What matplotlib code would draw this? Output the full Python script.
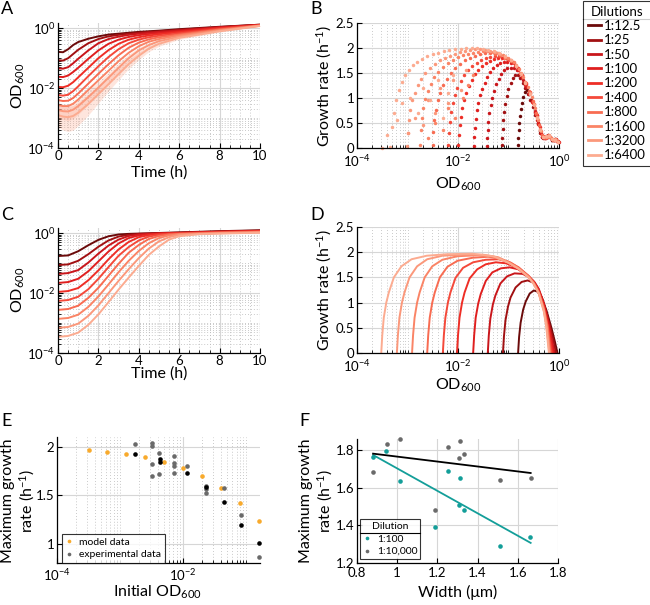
import numpy as np
import matplotlib
matplotlib.use('Agg')
import matplotlib.pyplot as plt
from matplotlib.ticker import LogLocator, NullFormatter, MultipleLocator
from matplotlib.lines import Line2D

plt.rcParams['font.family'] = ['Lato', 'DejaVu Sans']
plt.rcParams['mathtext.fontset'] = 'custom'
plt.rcParams['mathtext.rm'] = 'Lato'
plt.rcParams['mathtext.it'] = 'Lato:italic'
plt.rcParams['mathtext.bf'] = 'Lato:bold'
plt.rcParams['axes.unicode_minus'] = False

# ---- data ----
dilutions = ['1:12.5', '1:25', '1:50', '1:100', '1:200', '1:400', '1:800',
             '1:1600', '1:3200', '1:6400']
colors = ['#6b0a0a', '#a11012', '#c9161b', '#df1f1f', '#ee2e26', '#f4493a',
          '#f86c52', '#fa8466', '#fb987b', '#fcab90']

# A: measured OD (log10) vs time
t_a = [0, 0.25, 0.5, 0.75, 1, 1.5, 2, 2.5, 3, 3.5, 4, 4.5, 5, 6, 8, 10]
od_a = [
    [-0.79, -0.8, -0.7, -0.56, -0.46, -0.35, -0.27, -0.21, -0.18, -0.15, -0.12, -0.1, -0.08, -0.03, 0.05, 0.12],
    [-1.07, -1.08, -1.0, -0.86, -0.72, -0.5, -0.36, -0.27, -0.22, -0.18, -0.15, -0.12, -0.1, -0.05, 0.04, 0.12],
    [-1.34, -1.35, -1.3, -1.17, -1.02, -0.74, -0.5, -0.36, -0.28, -0.22, -0.18, -0.15, -0.12, -0.07, 0.03, 0.11],
    [-1.62, -1.63, -1.58, -1.46, -1.32, -1.02, -0.74, -0.52, -0.38, -0.29, -0.23, -0.19, -0.16, -0.1, 0.02, 0.11],
    [-1.96, -1.97, -1.92, -1.8, -1.64, -1.32, -1.0, -0.73, -0.52, -0.38, -0.3, -0.24, -0.2, -0.13, 0.0, 0.1],
    [-2.23, -2.25, -2.22, -2.1, -1.94, -1.6, -1.27, -0.96, -0.7, -0.5, -0.38, -0.3, -0.25, -0.17, -0.02, 0.1],
    [-2.4, -2.43, -2.42, -2.33, -2.18, -1.85, -1.52, -1.2, -0.9, -0.65, -0.48, -0.37, -0.3, -0.21, -0.04, 0.09],
    [-2.57, -2.6, -2.6, -2.52, -2.38, -2.06, -1.74, -1.42, -1.1, -0.82, -0.6, -0.45, -0.36, -0.24, -0.06, 0.09],
    [-2.73, -2.77, -2.78, -2.72, -2.6, -2.3, -1.98, -1.65, -1.32, -1.0, -0.74, -0.56, -0.43, -0.28, -0.08, 0.08],
    [-2.9, -2.95, -2.97, -2.93, -2.82, -2.53, -2.2, -1.87, -1.53, -1.2, -0.92, -0.68, -0.52, -0.32, -0.1, 0.08],
]
band9_lo = [-3.0, -3.05, -3.08, -3.02, -2.88, -2.55, -2.2, -1.85, -1.5, -1.15, -0.86, -0.64, -0.48, -0.31, -0.1, 0.07]
band9_hi = [-2.5, -2.53, -2.53, -2.47, -2.36, -2.08, -1.78, -1.47, -1.16, -0.87, -0.64, -0.49, -0.39, -0.26, -0.07, 0.09]
band10_lo = [-3.3, -3.4, -3.45, -3.4, -3.25, -2.9, -2.5, -2.1, -1.72, -1.35, -1.05, -0.78, -0.6, -0.37, -0.13, 0.06]
band10_hi = [-2.6, -2.62, -2.62, -2.58, -2.48, -2.22, -1.93, -1.63, -1.33, -1.04, -0.8, -0.6, -0.46, -0.28, -0.08, 0.09]

# B: measured growth rate vs OD (log10 OD, rate)
b_x = [
    [-0.82, -0.81, -0.8, -0.79, -0.78, -0.76, -0.74, -0.71, -0.68, -0.64, -0.6, -0.55, -0.5, -0.46, -0.42, -0.38, -0.33, -0.28, -0.23, -0.18, -0.13, -0.08, -0.03],
    [-1.13, -1.12, -1.11, -1.1, -1.08, -1.06, -1.03, -1.0, -0.96, -0.92, -0.87, -0.82, -0.77, -0.72, -0.67, -0.62, -0.57, -0.52, -0.47, -0.42, -0.37, -0.31, -0.25, -0.19, -0.13, -0.07, -0.01],
    [-1.43, -1.42, -1.41, -1.4, -1.38, -1.35, -1.32, -1.28, -1.24, -1.19, -1.14, -1.08, -1.02, -0.96, -0.9, -0.84, -0.78, -0.72, -0.66, -0.6, -0.54, -0.48, -0.43, -0.38, -0.33, -0.27, -0.21, -0.15, -0.09, -0.03],
    [-1.69, -1.68, -1.67, -1.65, -1.63, -1.6, -1.56, -1.52, -1.47, -1.42, -1.36, -1.3, -1.23, -1.16, -1.09, -1.02, -0.95, -0.88, -0.81, -0.74, -0.67, -0.6, -0.53, -0.47, -0.41, -0.35, -0.29, -0.23, -0.17, -0.11, -0.05, 0.0],
    [-2.0, -1.99, -1.97, -1.95, -1.92, -1.88, -1.84, -1.79, -1.73, -1.67, -1.6, -1.53, -1.45, -1.37, -1.29, -1.21, -1.13, -1.05, -0.97, -0.89, -0.81, -0.73, -0.65, -0.57, -0.5, -0.44, -0.38, -0.32, -0.26, -0.2, -0.14, -0.08, -0.02],
    [-2.19, -2.18, -2.16, -2.13, -2.1, -2.06, -2.01, -1.95, -1.88, -1.8, -1.72, -1.63, -1.54, -1.45, -1.36, -1.27, -1.18, -1.09, -1.0, -0.91, -0.82, -0.74, -0.66, -0.58, -0.51, -0.45, -0.39, -0.33, -0.27, -0.21, -0.15, -0.09, -0.03],
    [-2.5, -2.49, -2.47, -2.44, -2.4, -2.35, -2.29, -2.22, -2.14, -2.05, -1.96, -1.86, -1.76, -1.66, -1.56, -1.46, -1.36, -1.26, -1.16, -1.06, -0.96, -0.86, -0.77, -0.68, -0.6, -0.52, -0.45, -0.39, -0.33, -0.27, -0.21, -0.15, -0.09, -0.03],
    [-2.75, -2.74, -2.72, -2.69, -2.65, -2.6, -2.54, -2.47, -2.39, -2.3, -2.2, -2.1, -2.0, -1.9, -1.8, -1.7, -1.6, -1.5, -1.4, -1.3, -1.2, -1.1, -1.0, -0.9, -0.8, -0.71, -0.62, -0.54, -0.47, -0.41, -0.35, -0.29, -0.23, -0.17, -0.11, -0.05],
    [-3.01, -3.0, -2.98, -2.95, -2.91, -2.86, -2.8, -2.73, -2.65, -2.56, -2.46, -2.36, -2.26, -2.16, -2.06, -1.96, -1.86, -1.76, -1.66, -1.56, -1.46, -1.36, -1.26, -1.16, -1.06, -0.96, -0.86, -0.76, -0.67, -0.58, -0.5, -0.43, -0.37, -0.31, -0.25, -0.19, -0.13, -0.07, -0.01],
    [-3.34, -3.3, -3.26, -3.22, -3.17, -3.11, -3.05, -2.98, -2.9, -2.81, -2.71, -2.61, -2.5, -2.39, -2.28, -2.17, -2.06, -1.95, -1.84, -1.73, -1.62, -1.51, -1.4, -1.29, -1.18, -1.07, -0.96, -0.86, -0.76, -0.67, -0.58, -0.5, -0.43, -0.37, -0.31, -0.25, -0.19, -0.13, -0.07, -0.01],
]
b_y = [
    [0.05, 0.2, 0.35, 0.5, 0.64, 0.78, 0.9, 1.02, 1.12, 1.15, 1.08, 0.95, 0.82, 0.68, 0.5, 0.33, 0.22, 0.2, 0.24, 0.22, 0.16, 0.18, 0.14],
    [0.05, 0.2, 0.38, 0.55, 0.72, 0.88, 1.03, 1.17, 1.3, 1.4, 1.46, 1.45, 1.4, 1.3, 1.2, 1.08, 0.96, 0.82, 0.66, 0.48, 0.3, 0.2, 0.23, 0.24, 0.15, 0.17, 0.12],
    [0.04, 0.2, 0.36, 0.52, 0.7, 0.86, 1.0, 1.14, 1.27, 1.38, 1.48, 1.55, 1.6, 1.6, 1.6, 1.56, 1.48, 1.36, 1.22, 1.08, 0.93, 0.74, 0.55, 0.35, 0.22, 0.21, 0.25, 0.2, 0.16, 0.13],
    [0.04, 0.22, 0.4, 0.58, 0.75, 0.9, 1.05, 1.18, 1.3, 1.42, 1.52, 1.6, 1.66, 1.7, 1.72, 1.72, 1.7, 1.64, 1.56, 1.42, 1.26, 1.1, 0.92, 0.72, 0.5, 0.3, 0.2, 0.22, 0.22, 0.15, 0.17, 0.11],
    [0.05, 0.25, 0.45, 0.62, 0.8, 0.96, 1.1, 1.24, 1.36, 1.47, 1.56, 1.63, 1.69, 1.74, 1.77, 1.79, 1.8, 1.79, 1.76, 1.7, 1.6, 1.45, 1.28, 1.1, 0.88, 0.66, 0.42, 0.24, 0.2, 0.24, 0.18, 0.16, 0.13],
    [0.05, 0.3, 0.52, 0.72, 0.9, 1.05, 1.2, 1.33, 1.45, 1.55, 1.63, 1.7, 1.75, 1.79, 1.82, 1.84, 1.84, 1.82, 1.78, 1.71, 1.6, 1.46, 1.3, 1.12, 0.9, 0.68, 0.45, 0.26, 0.2, 0.23, 0.19, 0.16, 0.14],
    [0.05, 0.32, 0.55, 0.76, 0.95, 1.1, 1.25, 1.38, 1.5, 1.6, 1.68, 1.75, 1.8, 1.84, 1.87, 1.89, 1.89, 1.88, 1.85, 1.8, 1.73, 1.63, 1.49, 1.32, 1.14, 0.94, 0.7, 0.46, 0.26, 0.21, 0.24, 0.19, 0.16, 0.13],
    [0.05, 0.35, 0.6, 0.8, 0.98, 1.14, 1.28, 1.41, 1.52, 1.62, 1.7, 1.76, 1.81, 1.85, 1.88, 1.9, 1.92, 1.93, 1.93, 1.92, 1.9, 1.86, 1.8, 1.71, 1.58, 1.42, 1.22, 1.02, 0.8, 0.56, 0.34, 0.22, 0.22, 0.21, 0.16, 0.15],
    [0.04, 0.3, 0.55, 0.76, 0.95, 1.1, 1.25, 1.38, 1.5, 1.6, 1.68, 1.75, 1.8, 1.84, 1.88, 1.91, 1.94, 1.96, 1.97, 1.97, 1.96, 1.94, 1.91, 1.87, 1.82, 1.75, 1.65, 1.5, 1.32, 1.1, 0.88, 0.62, 0.38, 0.22, 0.22, 0.25, 0.17, 0.17, 0.12],
    [0.02, 0.42, 0.7, 0.95, 1.15, 1.32, 1.45, 1.56, 1.65, 1.72, 1.78, 1.83, 1.87, 1.9, 1.93, 1.95, 1.97, 1.98, 1.99, 2.0, 1.99, 1.98, 1.96, 1.93, 1.89, 1.84, 1.76, 1.64, 1.48, 1.3, 1.08, 0.85, 0.6, 0.36, 0.21, 0.23, 0.24, 0.18, 0.16, 0.12],
]
# scattered early points of the most diluted cultures
noise_x = {9: [-3.5, -3.4, -3.2, -3.1, -2.95, -2.8, -2.7, -2.55, -2.4, -2.3, -2.2, -2.1],
           8: [-3.0, -2.85, -2.7, -2.6, -2.45, -2.35, -2.2, -2.1, -1.95, -1.85],
           7: [-2.6, -2.45, -2.3, -2.2, -2.05, -1.9, -1.8, -1.7]}
noise_y = {9: [0.0, 0.25, 0.55, 0.9, 1.0, 0.7, 1.2, 0.95, 1.35, 0.6, 1.1, 1.45],
           8: [0.3, 0.6, 0.45, 0.95, 0.7, 1.2, 0.9, 1.35, 1.15, 1.55],
           7: [0.2, 0.5, 0.35, 0.8, 0.6, 1.0, 1.25, 1.45]}

# C: model OD (log10) vs time
t_c = [0, 0.5, 1, 1.5, 2, 2.5, 3, 3.5, 4, 4.5, 5, 5.5, 6, 7, 8, 10]
od_c = [
    [-0.76, -0.74, -0.6, -0.4, -0.22, -0.1, -0.04, -0.02, -0.01, 0.0, 0.01, 0.02, 0.03, 0.05, 0.07, 0.1],
    [-1.06, -1.04, -0.92, -0.70, -0.45, -0.24, -0.11, -0.05, -0.02, -0.01, 0.0, 0.01, 0.02, 0.04, 0.06, 0.09],
    [-1.36, -1.33, -1.23, -0.98, -0.68, -0.41, -0.21, -0.09, -0.04, -0.02, -0.01, 0.0, 0.01, 0.03, 0.05, 0.08],
    [-1.66, -1.63, -1.52, -1.27, -0.94, -0.61, -0.34, -0.16, -0.07, -0.03, -0.01, 0.0, 0.01, 0.03, 0.05, 0.07],
    [-1.96, -1.93, -1.83, -1.57, -1.24, -0.87, -0.54, -0.29, -0.13, -0.06, -0.02, -0.01, 0.0, 0.02, 0.04, 0.07],
    [-2.26, -2.23, -2.12, -1.87, -1.52, -1.13, -0.75, -0.46, -0.24, -0.11, -0.05, -0.02, -0.01, 0.01, 0.03, 0.06],
    [-2.56, -2.53, -2.42, -2.16, -1.82, -1.42, -1.02, -0.65, -0.39, -0.19, -0.09, -0.04, -0.02, 0.0, 0.02, 0.05],
    [-2.86, -2.83, -2.72, -2.46, -2.11, -1.71, -1.3, -0.92, -0.59, -0.33, -0.16, -0.07, -0.03, -0.01, 0.01, 0.04],
    [-3.16, -3.13, -3.02, -2.76, -2.41, -2.0, -1.59, -1.2, -0.83, -0.51, -0.27, -0.13, -0.05, -0.02, 0.0, 0.03],
    [-3.46, -3.43, -3.32, -3.06, -2.71, -2.3, -1.88, -1.48, -1.09, -0.72, -0.44, -0.21, -0.1, -0.03, -0.01, 0.02],
]

# D: model growth rate vs OD (log10 OD, rate)
d_x = [
    [-0.81, -0.79, -0.76, -0.71, -0.66, -0.58, -0.5, -0.43, -0.35, -0.25, -0.15, -0.08, -0.03],
    [-1.11, -1.09, -1.06, -1.01, -0.96, -0.86, -0.74, -0.62, -0.52, -0.42, -0.33, -0.22, -0.12, -0.06],
    [-1.41, -1.39, -1.36, -1.31, -1.26, -1.16, -1.03, -0.88, -0.72, -0.58, -0.48, -0.4, -0.3, -0.2, -0.09],
    [-1.70, -1.68, -1.65, -1.6, -1.55, -1.45, -1.32, -1.15, -0.98, -0.8, -0.62, -0.5, -0.4, -0.3, -0.2, -0.11],
    [-2.02, -2.0, -1.97, -1.92, -1.87, -1.77, -1.62, -1.45, -1.25, -1.05, -0.85, -0.65, -0.5, -0.4, -0.3, -0.21, -0.13],
    [-2.30, -2.28, -2.25, -2.20, -2.15, -2.05, -1.9, -1.7, -1.45, -1.2, -1.0, -0.8, -0.6, -0.5, -0.4, -0.3, -0.22, -0.15],
    [-2.61, -2.59, -2.56, -2.51, -2.46, -2.36, -2.21, -2.01, -1.71, -1.4, -1.15, -0.95, -0.8, -0.6, -0.5, -0.4, -0.3, -0.23, -0.17],
    [-2.91, -2.89, -2.86, -2.81, -2.76, -2.66, -2.51, -2.31, -2.01, -1.6, -1.3, -1.0, -0.8, -0.6, -0.5, -0.4, -0.3, -0.24, -0.18],
    [-3.21, -3.19, -3.16, -3.11, -3.06, -2.96, -2.81, -2.61, -2.31, -1.91, -1.5, -1.2, -1.0, -0.8, -0.6, -0.5, -0.4, -0.3, -0.25, -0.19],
    [-3.52, -3.50, -3.47, -3.42, -3.37, -3.27, -3.12, -2.92, -2.62, -2.22, -1.72, -1.3, -1.0, -0.8, -0.6, -0.5, -0.4, -0.3, -0.25, -0.2],
]
d_y = [
    [0, 0.32, 0.6, 0.86, 1.02, 1.18, 1.24, 1.22, 1.12, 0.85, 0.5, 0.22, 0.0],
    [0, 0.33, 0.65, 0.92, 1.1, 1.3, 1.41, 1.44, 1.40, 1.28, 1.07, 0.7, 0.3, 0.0],
    [0, 0.35, 0.68, 0.96, 1.14, 1.38, 1.52, 1.58, 1.57, 1.5, 1.40, 1.27, 0.99, 0.58, 0.0],
    [0, 0.35, 0.7, 0.98, 1.17, 1.43, 1.6, 1.68, 1.70, 1.66, 1.54, 1.42, 1.25, 0.96, 0.52, 0.0],
    [0, 0.35, 0.7, 1.0, 1.2, 1.48, 1.66, 1.76, 1.8, 1.78, 1.7, 1.54, 1.41, 1.23, 0.93, 0.5, 0.0],
    [0, 0.35, 0.7, 1.0, 1.2, 1.49, 1.69, 1.8, 1.85, 1.86, 1.81, 1.7, 1.53, 1.4, 1.21, 0.9, 0.5, 0.0],
    [0, 0.35, 0.7, 1.0, 1.2, 1.5, 1.71, 1.83, 1.89, 1.91, 1.87, 1.79, 1.69, 1.52, 1.39, 1.2, 0.88, 0.55, 0.0],
    [0, 0.35, 0.7, 1.0, 1.2, 1.5, 1.72, 1.85, 1.92, 1.94, 1.91, 1.8, 1.68, 1.51, 1.38, 1.19, 0.86, 0.55, 0.0],
    [0, 0.35, 0.7, 1.0, 1.2, 1.5, 1.72, 1.86, 1.93, 1.95, 1.95, 1.9, 1.79, 1.67, 1.5, 1.37, 1.18, 0.84, 0.55, 0.0],
    [0, 0.35, 0.7, 1.0, 1.2, 1.5, 1.72, 1.86, 1.93, 1.96, 1.97, 1.92, 1.79, 1.67, 1.5, 1.37, 1.18, 0.82, 0.5, 0.0],
]

# E: maximum growth rate vs initial OD
model_od = [3.2e-4, 6.3e-4, 1.26e-3, 2.5e-3, 5.0e-3, 1.0e-2, 2.0e-2, 4.0e-2, 7.9e-2, 0.16]
model_rate = [1.965, 1.948, 1.924, 1.89, 1.842, 1.783, 1.694, 1.577, 1.423, 1.237]
exp_od = [1.73e-3, 3.26e-3, 3.26e-3, 3.26e-3, 3.26e-3, 4.16e-3, 4.16e-3, 7.2e-3, 7.2e-3,
          7.2e-3, 7.2e-3, 1.15e-2, 2.3e-2, 2.3e-2, 2.3e-2, 4.4e-2, 8.2e-2, 0.162]
exp_rate = [2.03, 2.04, 2.01, 1.818, 1.697, 1.93, 1.714, 1.9, 1.835, 1.80, 1.732, 1.797,
            1.594, 1.56, 1.526, 1.57, 1.295, 0.862]
mean_od = [1.73e-3, 4.3e-3, 4.3e-3, 1.15e-2, 2.3e-2, 4.4e-2, 8.2e-2, 0.162]
mean_rate = [1.928, 1.869, 1.845, 1.732, 1.585, 1.43, 1.192, 1.006]

# F: maximum growth rate vs cell width
width_100 = [0.88, 0.946, 1.012, 1.19, 1.251, 1.314, 1.307, 1.332, 1.509, 1.661]
rate_100 = [1.765, 1.795, 1.636, 1.391, 1.692, 1.65, 1.507, 1.482, 1.291, 1.339]
width_10k = [0.88, 0.949, 1.012, 1.19, 1.251, 1.314, 1.307, 1.332, 1.509, 1.664]
rate_10k = [1.682, 1.835, 1.858, 1.482, 1.818, 1.848, 1.761, 1.778, 1.641, 1.65]
fit_w = [0.88, 1.664]
fit_100 = [1.775, 1.307]
fit_10k = [1.782, 1.679]

orange = '#f8aa2c'
grey = '#6a6a6a'
teal = '#139e99'

W, H = 650, 605
fig = plt.figure(figsize=(6.5, 6.05), dpi=100)


def box(l, t, r, b):
    return [l / W, 1 - b / H, (r - l) / W, (b - t) / H]


def style(ax):
    for s in ['top', 'right']:
        ax.spines[s].set_visible(False)
    for s in ['left', 'bottom']:
        ax.spines[s].set_linewidth(0.9)
    ax.tick_params(which='major', direction='in', length=3.5, width=0.8,
                   labelsize=9.5, pad=2, top=False, right=False)
    ax.tick_params(which='minor', direction='in', length=2, width=0.6,
                   top=False, right=False)
    ax.tick_params(axis='x', which='major', pad=1.5)
    ax.grid(True, which='major', color='#d6d6d6', lw=0.8)
    ax.set_axisbelow(True)


def logaxis(axis):
    axis.set_minor_locator(LogLocator(base=10, subs=np.arange(1, 10), numticks=30))
    axis.set_minor_formatter(NullFormatter())


minor_kw = dict(color='#b8b8b8', lw=0.6, ls=(0, (1, 2.5)))

# ---- A ----
axA = fig.add_axes(box(58, 23, 260, 148))
style(axA)
axA.fill_between(t_a, 10.0 ** np.array(band10_lo), 10.0 ** np.array(band10_hi),
                 color=colors[9], alpha=0.3, lw=0)
axA.fill_between(t_a, 10.0 ** np.array(band9_lo), 10.0 ** np.array(band9_hi),
                 color=colors[8], alpha=0.25, lw=0)
for i in range(10):
    axA.plot(t_a, 10.0 ** np.array(od_a[i]), color=colors[i], lw=1.4)

# ---- C ----
axC = fig.add_axes(box(58, 228, 260, 353))
style(axC)
for i in range(10):
    axC.plot(t_c, 10.0 ** np.array(od_c[i]), color=colors[i], lw=1.4)

for ax in (axA, axC):
    ax.set_yscale('log')
    ax.set_xlim(0, 10)
    ax.set_ylim(1e-4, 1.5)
    ax.set_xticks([0, 2, 4, 6, 8, 10])
    ax.set_yticks([1e-4, 1e-2, 1])
    ax.xaxis.set_minor_locator(MultipleLocator(0.5))
    logaxis(ax.yaxis)
    ax.grid(True, which='minor', **minor_kw)

# ---- B ----
axB = fig.add_axes(box(357, 23, 559, 148))
style(axB)
for i in range(10):
    axB.plot(10.0 ** np.array(b_x[i]), b_y[i], 'o', ms=2.5, mec='none',
             color=colors[i], clip_on=False)
    if i in noise_x:
        axB.plot(10.0 ** np.array(noise_x[i]), noise_y[i], 'o', ms=2.5,
                 mec='none', color=colors[i], clip_on=False)

# ---- D ----
axD = fig.add_axes(box(357, 227, 559, 353))
style(axD)
for i in range(10):
    axD.plot(10.0 ** np.array(d_x[i]), d_y[i], color=colors[i], lw=1.4)

for ax in (axB, axD):
    ax.set_xscale('log')
    ax.set_xlim(1e-4, 1)
    ax.set_ylim(0, 2.5)
    ax.set_xticks([1e-4, 1e-2, 1])
    logaxis(ax.xaxis)
    ax.set_yticks([0, 0.5, 1, 1.5, 2, 2.5])
    ax.set_yticklabels(['0', '0.5', '1', '1.5', '2', '2.5'])
    ax.tick_params(axis='x', which='major', pad=4)
    ax.grid(True, which='minor', axis='x', **minor_kw)

# ---- E ----
axE = fig.add_axes(box(57, 437, 260, 563))
style(axE)
axE.plot(model_od, model_rate, 'o', color=orange, ms=3.3, mec='none',
         label='model data', clip_on=False)
axE.plot(exp_od, exp_rate, 'o', color=grey, ms=3.3, mec='none',
         label='experimental data', clip_on=False)
axE.plot(mean_od, mean_rate, 'o', color='k', ms=3.3, mec='none', clip_on=False)
axE.set_xscale('log')
axE.set_xlim(1e-4, 0.165)
axE.set_ylim(0.8, 2.1)
axE.set_xticks([1e-4, 1e-2])
logaxis(axE.xaxis)
axE.set_yticks([1, 1.5, 2])
axE.set_yticklabels(['1', '1.5', '2'])
axE.tick_params(axis='x', which='major', pad=3)
axE.grid(True, which='minor', axis='x', **minor_kw)
legE = axE.legend(loc='lower left', bbox_to_anchor=(0.023, 0.0), borderaxespad=0,
                  fontsize=7.5, frameon=True, fancybox=False, edgecolor='k',
                  handlelength=0.8, handletextpad=0.5, markerscale=0.8,
                  borderpad=0.35, labelspacing=0.3)
legE.get_frame().set_linewidth(0.8)

# ---- F ----
axF = fig.add_axes(box(357, 439, 558, 563))
style(axF)
axF.plot(fit_w, fit_100, color=teal, lw=1.3)
axF.plot(fit_w, fit_10k, color='k', lw=1.3)
hF1, = axF.plot(width_100, rate_100, 'o', color=teal, ms=3.3, mec='none', clip_on=False)
hF2, = axF.plot(width_10k, rate_10k, 'o', color=grey, ms=3.3, mec='none', clip_on=False)
axF.set_xlim(0.8, 1.8)
axF.set_ylim(1.2, 1.86)
axF.set_xticks([0.8, 1, 1.2, 1.4, 1.6, 1.8])
axF.set_xticklabels(['0.8', '1', '1.2', '1.4', '1.6', '1.8'])
axF.set_yticks([1.2, 1.4, 1.6, 1.8])
axF.set_yticklabels(['1.2', '1.4', '1.6', '1.8'])
axF.tick_params(axis='x', which='major', pad=3)
legF = axF.legend([hF1, hF2], ['1:100', '1:10,000'], title='Dilution',
                  loc='lower left', bbox_to_anchor=(0.015, 0.03), borderaxespad=0,
                  fontsize=7.5, title_fontsize=7.5, frameon=True, fancybox=False,
                  edgecolor='k', handlelength=0.8, handletextpad=0.5,
                  markerscale=0.8, borderpad=0.3, labelspacing=0.3)
legF.get_frame().set_linewidth(0.8)

# ---- dilution legend ----
handles = [Line2D([], [], color=c, lw=2) for c in colors]
legD = fig.legend(handles, dilutions, title='Dilutions', loc='upper left',
                  bbox_to_anchor=(583 / W, 1 - 1 / H), fontsize=9.5,
                  title_fontsize=9.5, frameon=True, fancybox=False, edgecolor='k',
                  handlelength=1.0, handletextpad=0.25, labelspacing=0.18,
                  borderpad=0.35, borderaxespad=0)
legD.get_frame().set_linewidth(0.8)

# ---- labels ----
def label(x, y, s, **kw):
    fig.text(x / W, 1 - y / H, s, **kw)


od_lab = 'OD$_{\\mathregular{600}}$'
gr_lab = 'Growth rate (h$^{\\mathregular{-1}}$)'
mg_lab = 'Maximum growth\nrate (h$^{\\mathregular{-1}}$)'
label(18, 86, od_lab, rotation=90, ha='center', va='center', fontsize=11.5)
label(18, 290, od_lab, rotation=90, ha='center', va='center', fontsize=11.5)
label(324, 86, gr_lab, rotation=90, ha='center', va='center', fontsize=11.5)
label(324, 290, gr_lab, rotation=90, ha='center', va='center', fontsize=11.5)
label(19, 501, mg_lab, rotation=90, ha='center', va='center', fontsize=11.5,
      linespacing=1.15, multialignment='center')
label(317, 501, mg_lab, rotation=90, ha='center', va='center', fontsize=11.5,
      linespacing=1.15, multialignment='center')
label(159, 177, 'Time (h)', ha='center', va='baseline', fontsize=11.5)
label(159, 378, 'Time (h)', ha='center', va='baseline', fontsize=11.5)
label(458, 189, od_lab, ha='center', va='baseline', fontsize=11.5)
label(458, 390, od_lab, ha='center', va='baseline', fontsize=11.5)
label(157, 597, 'Initial ' + od_lab, ha='center', va='baseline', fontsize=11.5)
label(458, 597, 'Width (\u03bcm)', ha='center', va='baseline', fontsize=11.5)

for s, x, y in [('A', 1, 1), ('B', 310, 1), ('C', 1, 207), ('D', 310, 207),
                ('E', 1, 413), ('F', 299, 413)]:
    label(x, y, s, ha='left', va='top', fontsize=13)

# separator lines under legend titles
fig.canvas.draw()
r = fig.canvas.get_renderer()
for lg in (legD, legF):
    lb = lg.get_window_extent(r)
    tb = lg.get_title().get_window_extent(r)
    ys = tb.y0 - 1.5
    fig.add_artist(Line2D([lb.x0 / W, lb.x1 / W], [ys / H, ys / H],
                          transform=fig.transFigure, color='k', lw=0.8))

fig.savefig('out.png', dpi=100)
